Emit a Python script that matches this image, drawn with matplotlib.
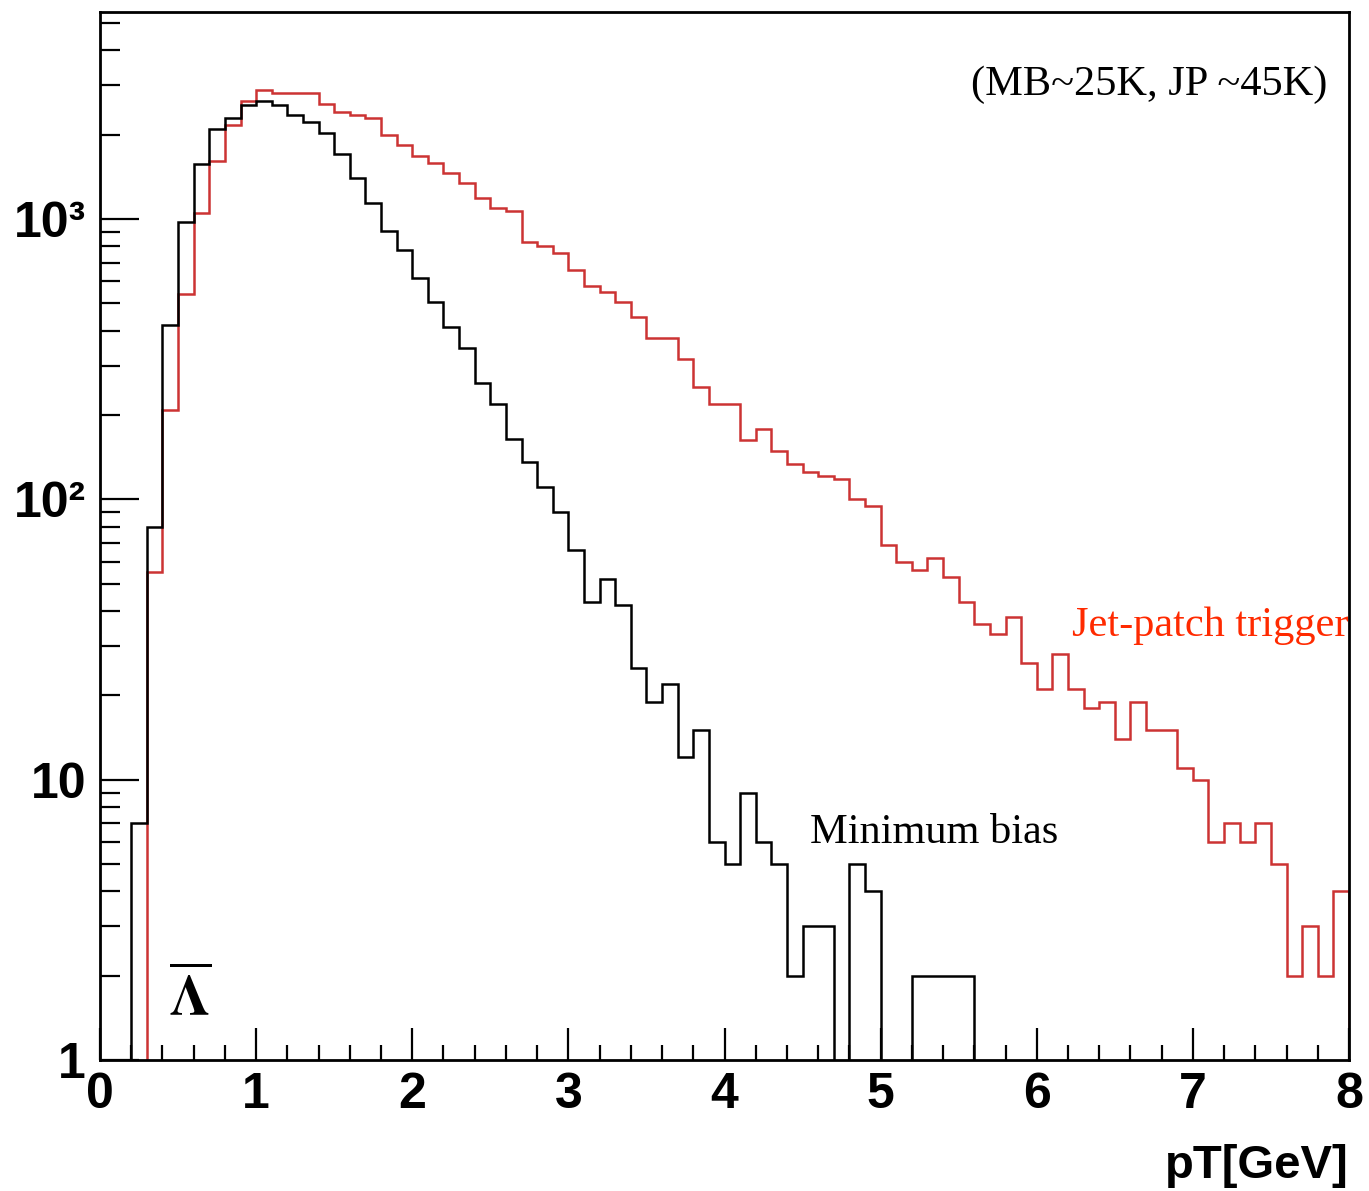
import numpy as np
import matplotlib
matplotlib.use('Agg')
import matplotlib.pyplot as plt
from matplotlib.ticker import FixedLocator, FixedFormatter, MultipleLocator, LogLocator, NullFormatter

# pT binning: 80 bins of 0.1 GeV
pt_edges = np.linspace(0, 8, 81)

# anti-Lambda counts per bin, minimum bias trigger
min_bias = [0, 0, 7, 80, 419, 973, 1577, 2094, 2296, 2558,
            2636, 2558, 2349, 2213, 2034, 1710, 1403, 1145, 910, 776,
            618, 504, 413, 346, 260, 219, 164, 136, 111, 90,
            66, 43, 52, 42, 25, 19, 22, 12, 15, 6,
            5, 9, 6, 5, 2, 3, 3, 0, 5, 4,
            0, 0, 2, 2, 2, 2, 0, 0, 0, 0,
            0, 0, 0, 0, 0, 0, 0, 0, 0, 0,
            0, 0, 0, 0, 0, 0, 0, 0, 0, 0]

# anti-Lambda counts per bin, jet-patch trigger
jet_patch = [0, 0, 0, 55, 208, 540, 1055, 1615, 2163, 2632,
             2877, 2823, 2823, 2823, 2582, 2414, 2361, 2296, 1995, 1845,
             1680, 1590, 1460, 1343, 1190, 1099, 1071, 826, 804, 758,
             656, 577, 550, 504, 448, 378, 378, 318, 251, 219,
             219, 163, 179, 149, 134, 125, 121, 118, 100, 95,
             69, 60, 56, 62, 53, 43, 36, 33, 38, 26,
             21, 28, 21, 18, 19, 14, 19, 15, 15, 11,
             10, 6, 7, 6, 7, 5, 2, 3, 2, 4]

x_ticks = [0, 1, 2, 3, 4, 5, 6, 7, 8]
y_ticks = [1, 10, 100, 1000]
y_tick_labels = ['1', '10', '10²', '10³']

plt.rcParams['font.family'] = ['Liberation Sans', 'DejaVu Sans']

fig = plt.figure(figsize=(13.69, 11.91), dpi=100)
ax = fig.add_axes([100 / 1369, 1 - 1060 / 1191, 1249 / 1369, 1048 / 1191])

# empty bins are pushed below the log axis so the outline drops to the frame
mb = np.array(min_bias, dtype=float)
jp = np.array(jet_patch, dtype=float)
ax.stairs(np.where(jp > 0, jp, 0.3), pt_edges, color='#cc3333', lw=1.8)
ax.stairs(np.where(mb > 0, mb, 0.3), pt_edges, color='black', lw=1.8)

ax.set_yscale('log')
ax.set_xlim(0, 8)
ax.set_ylim(1, 5480)

ax.xaxis.set_major_locator(FixedLocator(x_ticks))
ax.xaxis.set_minor_locator(MultipleLocator(0.2))
ax.yaxis.set_major_locator(FixedLocator(y_ticks))
ax.yaxis.set_major_formatter(FixedFormatter(y_tick_labels))
ax.yaxis.set_minor_locator(LogLocator(base=10, subs=range(2, 10), numticks=20))
ax.yaxis.set_minor_formatter(NullFormatter())

ax.tick_params(which='both', direction='in', top=False, right=False, width=1.6, labelsize=36)
ax.tick_params(axis='y', which='major', length=28, pad=10)
ax.tick_params(axis='y', which='minor', length=14.5)
ax.tick_params(axis='x', which='major', length=23, pad=9)
ax.tick_params(axis='x', which='minor', length=11)
for lab in ax.get_xticklabels() + ax.get_yticklabels():
    lab.set_fontweight('bold')

for s in ax.spines.values():
    s.set_linewidth(2.0)

ax.set_xlabel('pT[GeV]', loc='right', fontsize=34, fontweight='bold', labelpad=18)

serif = 'Liberation Serif'
ax.text(0.983, 0.921, '(MB~25K, JP ~45K)', transform=ax.transAxes, ha='right', va='baseline',
        fontsize=30.5, family=serif, color='black')
ax.text(0.778, 0.4046, 'Jet-patch trigger', transform=ax.transAxes, ha='left', va='baseline',
        fontsize=30.5, family=serif, color='#ff2a00')
ax.text(0.5685, 0.2071, 'Minimum bias', transform=ax.transAxes, ha='left', va='baseline',
        fontsize=30.5, family=serif, color='black')
ax.text(0.055, 0.0429, r'$\overline{\mathbf{\Lambda}}$', transform=ax.transAxes, ha='left',
        va='baseline', fontsize=41, math_fontfamily='stix', color='black')

fig.savefig('out.png', dpi=100)
